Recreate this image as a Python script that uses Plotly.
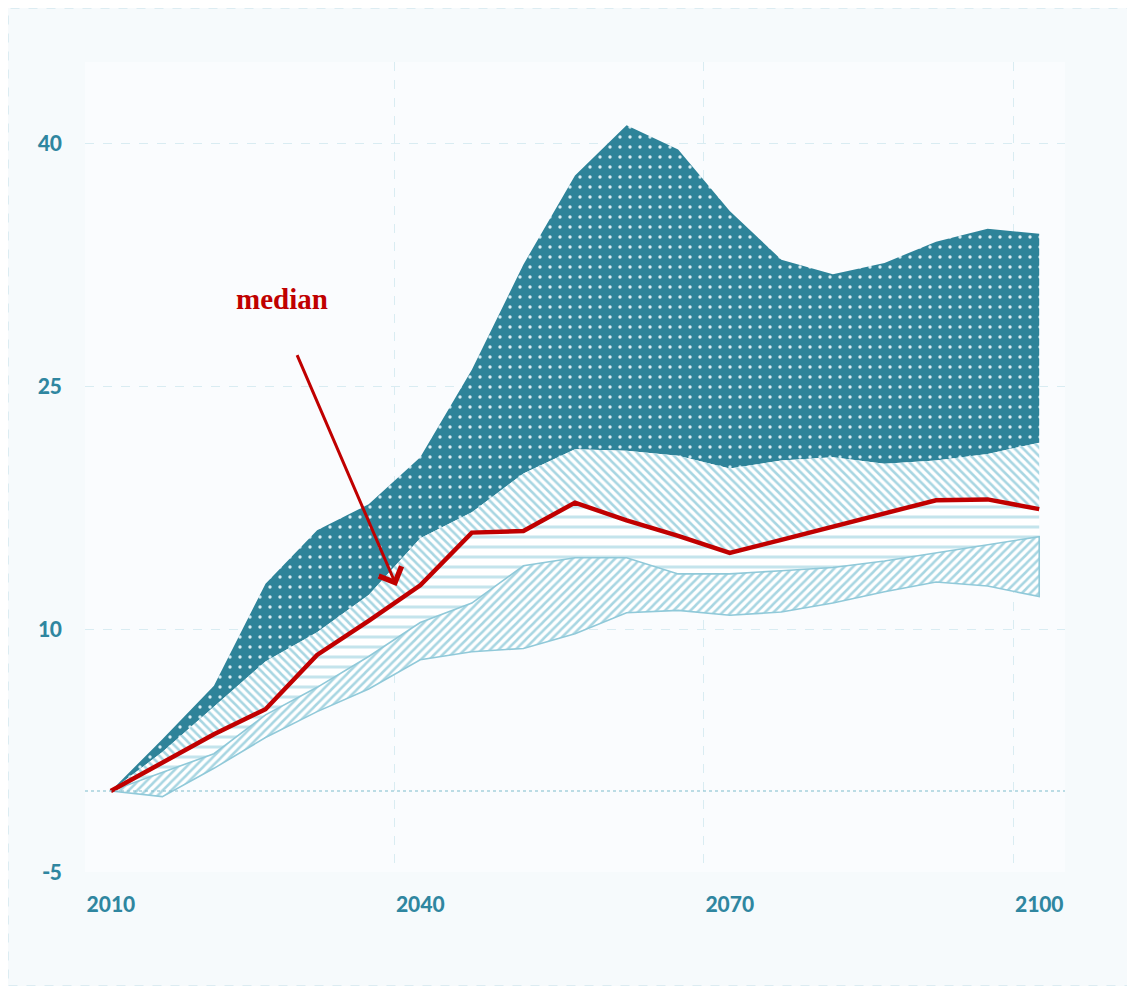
import plotly.graph_objects as go

years = [2010, 2015, 2020, 2025, 2030, 2035, 2040, 2045, 2050, 2055, 2060,
         2065, 2070, 2075, 2080, 2085, 2090, 2095, 2100]

upper_max = [0, 3.2, 6.5, 12.8, 16.1, 17.7, 20.6, 26.0, 32.5, 38.0, 41.1,
             39.6, 35.8, 32.8, 31.9, 32.6, 33.9, 34.7, 34.4]
upper_q = [0, 2.4, 5.2, 8.0, 9.8, 12.1, 15.6, 17.2, 19.6, 21.1, 21.0,
           20.7, 19.9, 20.4, 20.6, 20.2, 20.4, 20.8, 21.5]
median = [0, 1.75, 3.5, 5.05, 8.4, 10.5, 12.7, 15.95, 16.05, 17.8, 16.7,
          15.75, 14.7, 15.5, 16.3, 17.1, 17.95, 18.0, 17.4]
lower_q = [0, 1.15, 2.3, 4.7, 6.4, 8.3, 10.4, 11.6, 13.9, 14.4, 14.4,
           13.4, 13.4, 13.6, 13.8, 14.2, 14.7, 15.2, 15.7]
lower_min = [0, -0.35, 1.4, 3.3, 4.9, 6.3, 8.1, 8.6, 8.8, 9.7, 11.0,
             11.15, 10.85, 11.05, 11.6, 12.3, 12.9, 12.65, 12.0]

x_ticks = [2010, 2040, 2070, 2100]
x_grid = [2007.5, 2037.5, 2067.5, 2097.5]
y_ticks = [-5, 10, 25, 40]

TEAL = "#2e8399"
LABEL = "#2f86a0"
HATCH = "#a8d6e2"
RED = "#c00000"
FONT = "Carlito, Liberation Sans Narrow, Roboto Condensed, Lato, sans-serif"

W, H = 1120, 978
ML, MR, MT, MB = 77, 63, 54, 114
PW, PH = W - ML - MR, H - MT - MB


def band(top, bottom):
    return years + years[::-1], top + bottom[::-1]


fig = go.Figure()

bx, by = band(upper_max, upper_q)
fig.add_trace(go.Scatter(
    x=bx, y=by, fill="toself", mode="lines", line=dict(width=0, color=TEAL),
    fillcolor=TEAL,
    fillpattern=dict(shape=".", bgcolor=TEAL, fgcolor="#d6ebf1", size=10,
                     solidity=0.09, fillmode="replace"),
    hoverinfo="skip", showlegend=False))

bx, by = band(upper_q, median)
fig.add_trace(go.Scatter(
    x=bx, y=by, fill="toself", mode="lines", line=dict(width=0, color=HATCH),
    fillpattern=dict(shape="\\", bgcolor="#ffffff", fgcolor=HATCH, size=6,
                     solidity=0.42, fillmode="replace"),
    hoverinfo="skip", showlegend=False))

bx, by = band(median, lower_q)
fig.add_trace(go.Scatter(
    x=bx, y=by, fill="toself", mode="lines", line=dict(width=0, color=HATCH),
    fillpattern=dict(shape="-", bgcolor="#ffffff", fgcolor="#c4e4ec", size=10,
                     solidity=0.3, fillmode="replace"),
    hoverinfo="skip", showlegend=False))

bx, by = band(lower_q, lower_min)
fig.add_trace(go.Scatter(
    x=bx + [bx[0]], y=by + [by[0]], fill="toself", mode="lines",
    line=dict(width=1.6, color="#90c9d9"),
    fillpattern=dict(shape="/", bgcolor="#ffffff", fgcolor=HATCH, size=6,
                     solidity=0.42, fillmode="replace"),
    hoverinfo="skip", showlegend=False))

fig.add_trace(go.Scatter(
    x=years, y=median, mode="lines", line=dict(color=RED, width=4.5),
    hoverinfo="skip", showlegend=False))

# invisible trace on second x axis for vertical gridlines
fig.add_trace(go.Scatter(x=[x_grid[0]], y=[0], xaxis="x2", mode="markers",
                         marker=dict(opacity=0), hoverinfo="skip",
                         showlegend=False))

fig.add_shape(type="line", xref="paper", x0=0, x1=1, yref="y", y0=0, y1=0,
              line=dict(color="#7cbccb", width=1.2, dash="dot"), layer="above")

fig.add_shape(type="rect", xref="paper", yref="paper",
              x0=-(ML - 0.5) / PW, x1=1 + (MR - 0.5) / PW,
              y0=-(MB - 0.5) / PH, y1=1 + (MT - 0.5) / PH,
              line=dict(color="#dcecf2", width=1, dash="dash"),
              fillcolor="rgba(0,0,0,0)", layer="below")

fig.add_annotation(x=2037.7, y=12.65, ax=2028.0, ay=27.0,
                   xref="x", yref="y", axref="x", ayref="y",
                   text="", showarrow=True, arrowhead=4, arrowsize=1.6,
                   arrowwidth=3, arrowcolor=RED)
fig.add_annotation(x=2026.6, y=30.4, xref="x", yref="y", text="<b>median</b>",
                   showarrow=False,
                   font=dict(family="Liberation Serif, DejaVu Serif, serif",
                             size=29, color=RED))

fig.update_layout(
    width=W, height=H,
    margin=dict(l=ML, r=MR, t=MT, b=MB),
    paper_bgcolor="#f6fafc",
    plot_bgcolor="#fafcfe",
    font=dict(family=FONT),
    xaxis=dict(range=[2007.5, 2102.5], tickvals=x_ticks,
               ticktext=[f"<b>{t}</b>" for t in x_ticks],
               tickfont=dict(size=24, color=LABEL, family=FONT),
               showgrid=False, zeroline=False, showline=False,
               ticks="", ticklabelstandoff=15),
    xaxis2=dict(range=[2007.5, 2102.5], overlaying="x", tickvals=x_grid,
                showticklabels=False, showgrid=True, gridcolor="#d9ecf2",
                griddash="dash", gridwidth=1, zeroline=False, showline=False,
                ticks="", side="bottom"),
    yaxis=dict(range=[-5, 45], tickvals=y_ticks,
               ticktext=[f"<b>{t}</b>" for t in y_ticks],
               tickfont=dict(size=24, color=LABEL, family=FONT),
               showgrid=True, gridcolor="#d9ecf2", griddash="dash",
               gridwidth=1, zeroline=False, showline=False, ticks="",
               ticklabelstandoff=22),
)

fig.write_html("out.html")
